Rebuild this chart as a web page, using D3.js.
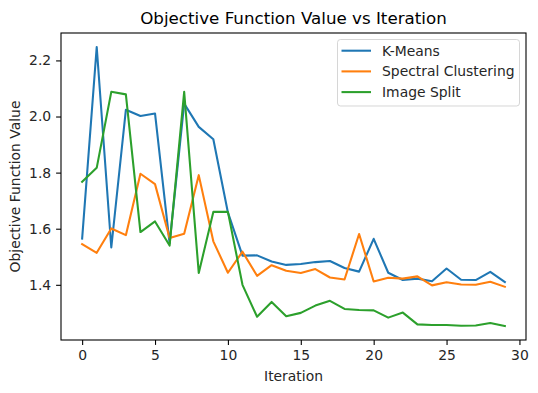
<!DOCTYPE html>
<html>
<head>
<meta charset="utf-8">
<script src="https://cdn.jsdelivr.net/npm/d3@7"></script>
<style>
  html, body { margin: 0; padding: 0; background: #fff; }
  svg { display: block; font-family: 'DejaVu Sans', sans-serif; }
</style>
</head>
<body>
<div id="plot"></div>
<script>
(() => {
'use strict';

const WIDTH = 538;
const HEIGHT = 393;
const MARGIN = { left: 61, top: 33, right: 12, bottom: 53 };

const iterations = d3.range(30);
const kMeans = [1.565, 2.248, 1.533, 2.024, 2.002, 2.011, 1.548, 2.046, 1.963, 1.919,
  1.658, 1.504, 1.505, 1.483, 1.471, 1.474, 1.481, 1.485, 1.460, 1.447,
  1.564, 1.443, 1.417, 1.422, 1.413, 1.458, 1.418, 1.417, 1.446, 1.410];
const spectral = [1.545, 1.514, 1.601, 1.577, 1.796, 1.759, 1.567, 1.582, 1.791, 1.555,
  1.443, 1.518, 1.432, 1.470, 1.450, 1.442, 1.456, 1.426, 1.419, 1.581,
  1.412, 1.425, 1.422, 1.430, 1.398, 1.409, 1.401, 1.400, 1.411, 1.393];
const imageSplit = [1.767, 1.817, 2.088, 2.079, 1.588, 1.626, 1.540, 2.088, 1.442, 1.660,
  1.660, 1.400, 1.286, 1.339, 1.288, 1.300, 1.326, 1.343, 1.314, 1.310,
  1.309, 1.283, 1.301, 1.259, 1.257, 1.257, 1.254, 1.255, 1.264, 1.253];
const seriesNames = ['K-Means', 'Spectral Clustering', 'Image Split'];
const seriesColors = ['#1f77b4', '#ff7f0e', '#2ca02c'];
const xTicks = [0, 5, 10, 15, 20, 25, 30];
const yTicks = [1.4, 1.6, 1.8, 2.0, 2.2];

const series = [kMeans, spectral, imageSplit];

const SVG = d3.select('#plot')
  .append('svg')
  .attr('width', WIDTH)
  .attr('height', HEIGHT);

const allValues = series.flat();
const yMin = d3.min(allValues);
const yMax = d3.max(allValues);
const yPad = (yMax - yMin) * 0.05;
const xPad = (d3.max(iterations) - d3.min(iterations)) * 0.05;

const xScale = d3.scaleLinear()
  .domain([d3.min(iterations) - xPad, d3.max(iterations) + xPad])
  .range([MARGIN.left, WIDTH - MARGIN.right]);

const yScale = d3.scaleLinear()
  .domain([yMin - yPad, yMax + yPad])
  .range([HEIGHT - MARGIN.bottom, MARGIN.top]);

const xAxis = d3.axisBottom(xScale)
  .tickValues(xTicks)
  .tickFormat(d3.format('d'))
  .tickSize(4.9)
  .tickPadding(4.9)
  .tickSizeOuter(0);

const yAxis = d3.axisLeft(yScale)
  .tickValues(yTicks)
  .tickFormat(d3.format('.1f'))
  .tickSize(4.9)
  .tickPadding(4.9)
  .tickSizeOuter(0);

const gx = SVG.append('g')
  .attr('transform', `translate(0, ${HEIGHT - MARGIN.bottom})`)
  .call(xAxis);

const gy = SVG.append('g')
  .attr('transform', `translate(${MARGIN.left}, 0)`)
  .call(yAxis);

[gx, gy].forEach((g) => {
  g.select('.domain').remove();
  g.selectAll('.tick line').attr('stroke', '#000').attr('stroke-width', 1.1);
  g.selectAll('.tick text')
    .attr('fill', '#262626')
    .style('font-size', '13.9px')
    .style('font-family', 'DejaVu Sans, sans-serif');
});

const line = d3.line()
  .x((d, i) => xScale(iterations[i]))
  .y((d) => yScale(d));

SVG.selectAll('.series')
  .data(series)
  .enter()
  .append('path')
    .attr('class', 'series')
    .attr('d', line)
    .attr('fill', 'none')
    .attr('stroke', (d, i) => seriesColors[i])
    .attr('stroke-width', 2.08)
    .attr('stroke-linejoin', 'round')
    .attr('stroke-linecap', 'square');

// axes frame
SVG.append('rect')
  .attr('x', MARGIN.left)
  .attr('y', MARGIN.top)
  .attr('width', WIDTH - MARGIN.left - MARGIN.right)
  .attr('height', HEIGHT - MARGIN.top - MARGIN.bottom)
  .attr('fill', 'none')
  .attr('stroke', '#000')
  .attr('stroke-width', 1.1);

// title and axis labels
SVG.append('text')
  .attr('x', (MARGIN.left + WIDTH - MARGIN.right) / 2)
  .attr('y', 24)
  .attr('text-anchor', 'middle')
  .style('font-size', '16.7px')
  .attr('fill', '#000')
  .text('Objective Function Value vs Iteration');

SVG.append('text')
  .attr('x', (MARGIN.left + WIDTH - MARGIN.right) / 2)
  .attr('y', 381)
  .attr('text-anchor', 'middle')
  .style('font-size', '13.9px')
  .attr('fill', '#262626')
  .text('Iteration');

SVG.append('text')
  .attr('transform', `translate(20, ${(MARGIN.top + HEIGHT - MARGIN.bottom) / 2}) rotate(-90)`)
  .attr('text-anchor', 'middle')
  .style('font-size', '13.9px')
  .attr('fill', '#262626')
  .text('Objective Function Value');

// legend
const legendBox = SVG.append('g')
  .attr('transform', 'translate(337.5, 39.5)');

legendBox.append('rect')
  .attr('width', 182)
  .attr('height', 66.5)
  .attr('rx', 3)
  .attr('fill', 'rgba(255,255,255,0.8)')
  .attr('stroke', 'rgba(204,204,204,0.8)')
  .attr('stroke-width', 1);

const legend = legendBox.selectAll('.legend')
  .data(seriesNames)
  .enter()
  .append('g')
    .attr('class', 'legend')
    .attr('transform', (d, i) => `translate(0, ${11.2 + i * 20.7})`);

legend.append('line')
  .attr('x1', 4)
  .attr('x2', 33.5)
  .attr('stroke', (d, i) => seriesColors[i])
  .attr('stroke-width', 2.08);

legend.append('text')
  .attr('x', 44.5)
  .attr('dy', '0.35em')
  .style('font-size', '13.9px')
  .attr('fill', '#262626')
  .text((d) => d);

})();
</script>
</body>
</html>
